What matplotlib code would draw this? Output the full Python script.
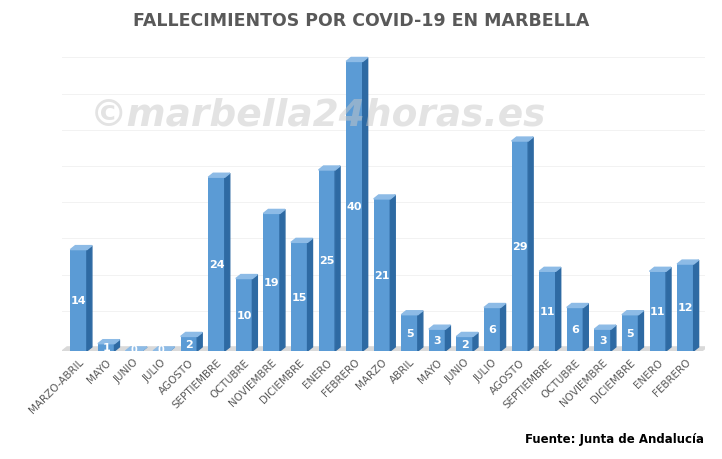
import matplotlib.pyplot as plt
from matplotlib.patches import Polygon
import numpy as np

months = ["MARZO-ABRIL", "MAYO", "JUNIO", "JULIO", "AGOSTO", "SEPTIEMBRE", "OCTUBRE",
          "NOVIEMBRE", "DICIEMBRE", "ENERO", "FEBRERO", "MARZO", "ABRIL", "MAYO",
          "JUNIO", "JULIO", "AGOSTO", "SEPTIEMBRE", "OCTUBRE", "NOVIEMBRE",
          "DICIEMBRE", "ENERO", "FEBRERO"]
deaths = [14, 1, 0, 0, 2, 24, 10, 19, 15, 25, 40, 21, 5, 3, 2, 6, 29, 11, 6, 3, 5, 11, 12]

front = "#5b9bd5"
side = "#2e6aa3"
top = "#8dbbe6"

fig = plt.figure(figsize=(7.22, 4.6), dpi=100)
ax = fig.add_axes([0.086, 0.235, 0.89, 0.645])
x = np.arange(len(deaths))
w = 0.6
dx, dy = 0.18, 0.55  # fake depth in data units

ax.bar(x, deaths, width=w, color=front, zorder=3)
for xi, v in zip(x, deaths):
    l, r = xi - w / 2, xi + w / 2
    ax.add_patch(Polygon([(r, 0), (r + dx, dy), (r + dx, v + dy), (r, v)],
                         closed=True, color=side, zorder=3))
    ax.add_patch(Polygon([(l, v), (l + dx, v + dy), (r + dx, v + dy), (r, v)],
                         closed=True, color=top, zorder=3))
    if v > 0:
        ax.text(xi, v / 2, str(v), ha="center", va="center", color="white",
                fontsize=8, fontweight="bold", zorder=4)
    else:
        ax.text(xi, 0.3, "0", ha="center", va="center", color="white",
                fontsize=7, fontweight="bold", zorder=4)

# floor
ax.add_patch(Polygon([(-0.6, 0), (len(x) - 0.4, 0), (len(x) - 0.4 + dx, dy), (-0.6 + dx, dy)],
                     closed=True, color="#d9d9d9", zorder=1))
for g in range(5, 45, 5):
    ax.axhline(g + dy, color="#f2f2f2", lw=0.7, zorder=0)

ax.set_xlim(-0.6, len(x) - 0.3)
ax.set_ylim(0, 41)
ax.set_xticks(x)
ax.set_xticklabels(months, rotation=45, ha="right", rotation_mode="anchor",
                   fontsize=7.5, color="#595959")
ax.tick_params(length=0, pad=4)
ax.set_yticks([])
for s in ax.spines.values():
    s.set_visible(False)

fig.text(0.5, 0.955, "FALLECIMIENTOS POR COVID-19 EN MARBELLA", ha="center", va="center",
         fontsize=12.5, fontweight="bold", color="#595959")
fig.text(0.125, 0.75, "©marbella24horas.es", fontsize=27, fontweight="bold",
         color="#c8c8c8", alpha=0.5, style="italic", va="center", zorder=0)
fig.text(0.975, 0.045, "Fuente: Junta de Andalucía", ha="right", va="center",
         fontsize=8.5, fontweight="bold", color="black")

fig.savefig("out.png", dpi=100)
